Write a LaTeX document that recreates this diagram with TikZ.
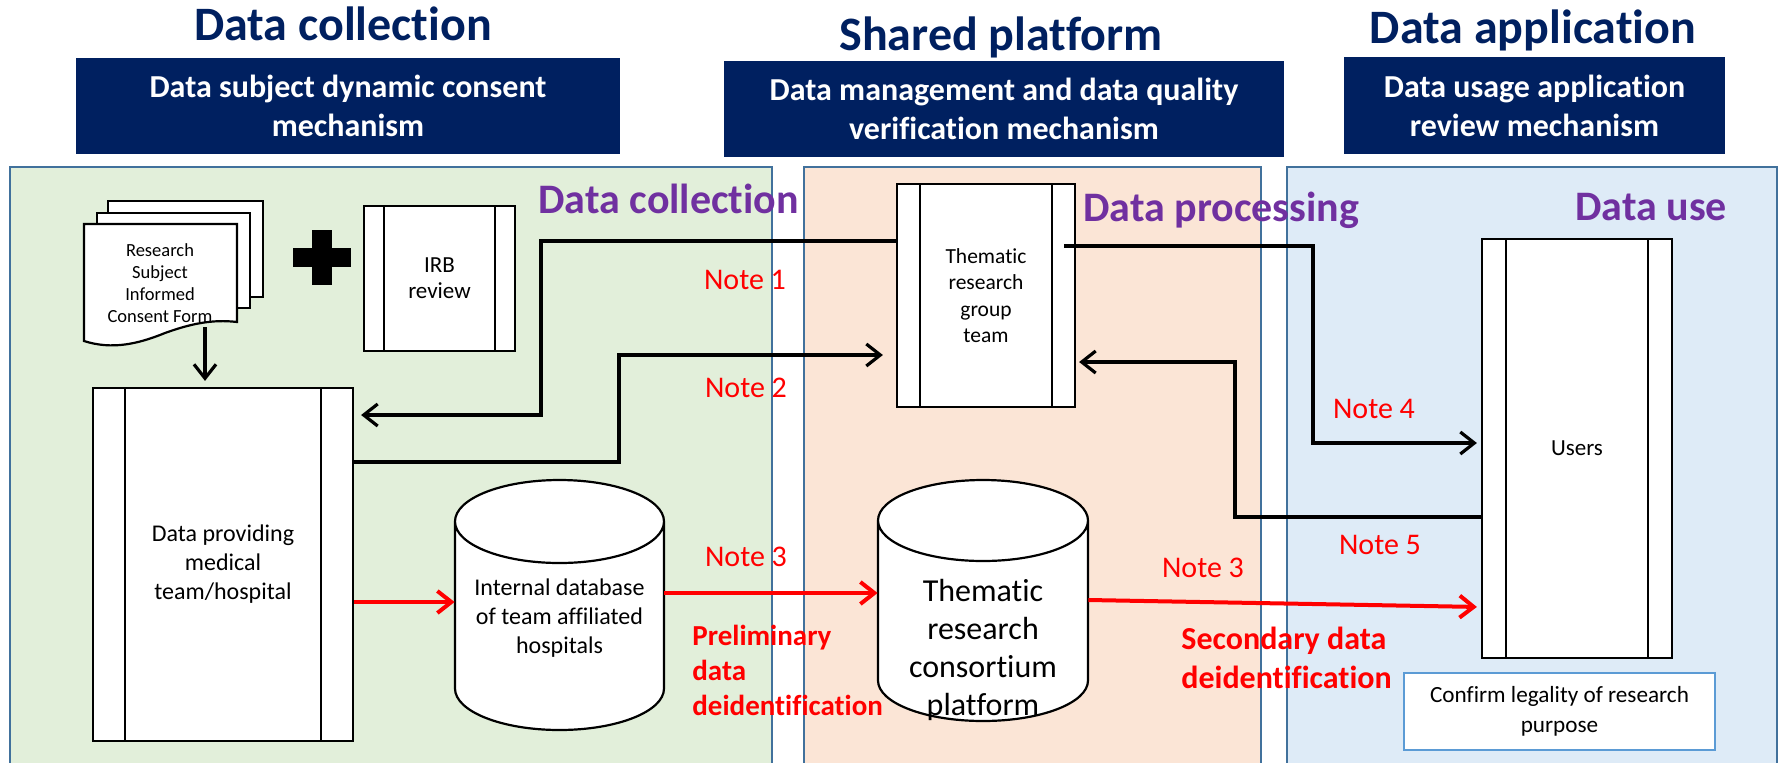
\documentclass[tikz,border=0pt]{standalone}
\usepackage{fontspec}
\setmainfont{Carlito}[Ligatures=NoCommon]
\usetikzlibrary{arrows.meta,calc,positioning}
\definecolor{navyblue}{RGB}{0,32,96}
\definecolor{phasepurple}{RGB}{112,48,160}
\definecolor{collectgreen}{RGB}{226,239,218}
\definecolor{processorange}{RGB}{251,229,214}
\definecolor{useblue}{RGB}{222,235,247}
\definecolor{paneledge}{RGB}{65,113,156}
\definecolor{confirmedge}{RGB}{91,155,213}

\newcommand{\fsz}[2]{\fontsize{#1}{#2}\selectfont}
% database drum: centre x, top, bottom, x radius, y radius
\newcommand{\dbcyl}[5]{%
  \draw[cylline] ({#1-#4},{#2+#5}) -- ({#1-#4},{#3-#5})
    arc[start angle=180, end angle=360, x radius=#4*0.5pt, y radius=#5*0.5pt]
    -- ({#1+#4},{#2+#5})
    arc[start angle=0, end angle=360, x radius=#4*0.5pt, y radius=#5*0.5pt];
}

\begin{document}
\begin{tikzpicture}[
  x=0.5pt, y=-0.5pt,
  panel/.style={draw=paneledge, line width=1pt},
  headtitle/.style={text=navyblue, font=\bfseries\fsz{24}{28}, anchor=base, inner sep=0pt},
  headbox/.style={fill=navyblue, text=white, font=\bfseries\fsz{16}{19.5}, align=center, inner sep=0pt},
  phase/.style={text=phasepurple, font=\bfseries\fsz{21}{25}, anchor=base west, inner sep=0pt},
  procbox/.style={
    draw,
    fill=white,
    line width=1.1pt,
    inner sep=0pt,
    align=center,
    path picture={\draw[line width=1.1pt]
      ([xshift=#1]path picture bounding box.north west) -- ([xshift=#1]path picture bounding box.south west)
      ([xshift=-#1]path picture bounding box.north east) -- ([xshift=-#1]path picture bounding box.south east);}
    },
  pageline/.style={draw, fill=white, line width=1.1pt},
  cylline/.style={draw, fill=white, line width=1.1pt},
  dbtext/.style={align=center, inner sep=0pt},
  note/.style={text=red, font=\fsz{15}{18}},
  remark/.style={text=red, font=\bfseries\fsz{14.5}{17.5}, align=left, anchor=west, inner sep=0pt},
  conn/.style={line width=1.6pt, -{Straight Barb[length=7pt,width=11pt]}},
  redconn/.style={conn, draw=red, line width=2pt}
]
\useasboundingbox (0,0) rectangle (1779,762);

% three stages
\draw[panel, fill=collectgreen] (10,167) rectangle (772,775);
\draw[panel, fill=processorange] (804,167) rectangle (1261,775);
\draw[panel, fill=useblue] (1287,167) rectangle (1777,775);

\node[headtitle] (titlecollect) at (343,40) {Data collection};
\node[headtitle] (titleshared) at (1001,50) {Shared platform};
\node[headtitle] (titleapply) at (1533,43) {Data application};

\node[headbox, minimum width=272pt, minimum height=48pt] (consentmech) at (348,106)
  {Data subject dynamic consent\\mechanism};
\node[headbox, minimum width=280pt, minimum height=48pt] (qualitymech) at (1004,109)
  {Data management and data quality\\verification mechanism};
\node[headbox, minimum width=190.5pt, minimum height=48.5pt] (reviewmech) at (1534.5,105.5)
  {Data usage application\\review mechanism};

\node[phase] (phasecollect) at (538,213) {Data collection};
\node[phase] (phaseprocess) at (1083,221) {Data processing};
\node[phase] (phaseuse) at (1575,220) {Data use};

% consent form stack
\draw[pageline] (108,201) rectangle (263,297);
\draw[pageline] (97,213) rectangle (250,308);
\draw[pageline] (84,224) -- (237,224) -- (237,322)
  .. controls (212,319) and (190,324) .. (165,333)
  .. controls (138,344) and (112,350) .. (84,341) -- cycle;
\node[align=center, font=\fsz{9.25}{11}] (consent) at (160,283)
  {Research\\Subject\\Informed\\Consent Form};

\fill (312,230) rectangle (332,285);
\fill (293,248) rectangle (351,267);

\node[procbox=10pt, minimum width=75.5pt, minimum height=72.5pt, font=\fsz{11.5}{13}] (irb) at (439.5,278.5)
  {IRB\\review};
\node[procbox=16pt, minimum width=130pt, minimum height=176.5pt, font=\fsz{12}{14.5}] (provider) at (223,564.5)
  {Data providing\\medical\\team/hospital};
\node[procbox=11.5pt, minimum width=89pt, minimum height=111.5pt, font=\fsz{10.75}{13.25}] (groupteam) at (986,295.5)
  {Thematic\\research\\group\\team};
\node[procbox=12pt, minimum width=95pt, minimum height=209.5pt, font=\fsz{11.5}{14}] (users) at (1577,448.5)
  {Users};
\node[draw=confirmedge, line width=1.2pt, fill=white, align=center, inner sep=0pt,
  minimum width=155.5pt, minimum height=38.5pt, font=\fsz{11.6}{15}] (legality) at (1559.5,711.5)
  {Confirm legality of research\\purpose};

\dbcyl{559.5}{480}{730}{104.5}{41.5}
\node[dbtext, minimum width=104.5pt, font=\fsz{12}{14.5}] (hospdb) at (559.5,618)
  {Internal database\\of team affiliated\\hospitals};
\dbcyl{983}{480}{721}{105}{40.5}
\node[dbtext, minimum width=105pt, font=\fsz{16}{19}] (consortium) at (983,649.5)
  {Thematic\\research\\consortium\\platform};

% flows
\coordinate (consentout) at (205,327);
\draw[conn, shorten >=3pt] (consentout) -- (consentout |- provider.north);
\draw[conn, shorten >=3.5pt] ([yshift=-29pt]groupteam.north west) -| (541,415) -- (provider.east |- 0,415);
\draw[conn, shorten >=6.5pt] (provider.east |- 0,462) -| (619,355) -- (groupteam.west |- 0,355);
\draw[conn, shorten >=2pt] ($(groupteam.east |- 0,246)+(-12,0)$) -| (1313,443) -- (users.west |- 0,443);
\draw[conn, shorten >=1.5pt] (users.west |- 0,517) -| (1235,362) -- (groupteam.east |- 0,362);

\draw[redconn] (provider.east |- 0,602) -- (hospdb.west |- 0,602);
\draw[redconn] (hospdb.east |- 0,593) -- (consortium.west |- 0,593);
\draw[redconn, shorten >=2pt] (consortium.east |- 0,600) -- (users.west |- 0,607);

\node[note] (note1) at (745,280) {Note 1};
\node[note] (note2) at (746,388) {Note 2};
\node[note] (note3a) at (746,557) {Note 3};
\node[note] (note3b) at (1203,568) {Note 3};
\node[note] (note4) at (1374,409) {Note 4};
\node[note] (note5) at (1380,545) {Note 5};

\node[remark] (prelim) at (692,670) {Preliminary\\data\\deidentification};
\node[remark, font=\bfseries\fsz{16}{19.5}] (secondary) at (1181,657.5) {Secondary data\\deidentification};
\end{tikzpicture}
\end{document}
